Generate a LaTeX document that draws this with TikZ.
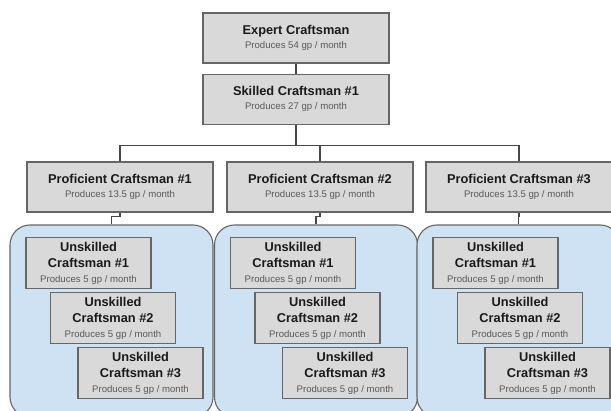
\documentclass[tikz,border=0pt]{standalone}
\usepackage{fontspec}
\setmainfont{Liberation Sans}
\usetikzlibrary{positioning}

\definecolor{boxfill}{HTML}{D9D9D9}
\definecolor{boxline}{HTML}{666666}
\definecolor{groupfill}{HTML}{CFE2F3}
\definecolor{subtext}{HTML}{595959}
\definecolor{titletext}{HTML}{1A1A1A}

% rate line under a title
\newcommand{\craftrate}[1]{\\[-2pt]{\fontsize{9.6}{11}\selectfont\mdseries\color{subtext}Produces #1 gp / month}}

\begin{document}
\begin{tikzpicture}
[
    x=1pt, y=-1pt, node distance=10pt,
    % Workers are named E, S, P-column, the groups C-column
    % and the unskilled workers U-column-row
]
\useasboundingbox (0,0) rectangle (611,411);

%=================================== Start ===================================
\tikzstyle{worker} = [draw=boxline, fill=boxfill, rectangle, align=center, text=titletext,
    minimum width=186pt, minimum height=50pt, inner sep=2pt, line width=1.1pt,
    font=\fontsize{12.8}{16.5}\selectfont\bfseries]
\tikzstyle{novice} = [worker, minimum width=125pt, minimum height=51pt]
\tikzstyle{group}  = [draw=boxline, fill=groupfill, rounded corners=20pt, line width=1.1pt,
    minimum width=203pt, minimum height=192pt]
\tikzstyle{link}   = [draw=boxline!70!black, line width=1.2pt]

% Top of the tree
\node[worker] (E) at (296,38) {Expert Craftsman\craftrate{54}};
\node[worker, below=of E] (S) {Skilled Craftsman \#1\craftrate{27}};

% Proficient workers
\foreach \i / \x in {1/120, 2/320, 3/519}
    \node[worker] (P-\i) at (\x,187) {Proficient Craftsman \#\i\craftrate{13.5}};

% Groups of unskilled workers
\foreach \i / \x in {1/111.5, 2/316, 3/518.5}
    \node[group] (C-\i) at (\x,321) {};

\foreach \i in {1,...,3}
    \foreach \j / \dx / \dy in {1/-23/-58, 2/1.5/-3, 3/29/52}
        \path (C-\i.center) ++(\dx,\dy)
            node[novice] (U-\i-\j) {Unskilled\\Craftsman \#\j\craftrate{5}};

% Connect nodes
\draw[link] (E.south) -- (S.north);
\foreach \i in {1,...,3}
    \draw[link] (S.south) -- ++(0,21) -| (P-\i.north);
\foreach \i in {1,...,3}
    \draw[link] (P-\i.south) -- ++(0,4) -| (C-\i.north);
%==================================== END ====================================

\end{tikzpicture}
\end{document}
